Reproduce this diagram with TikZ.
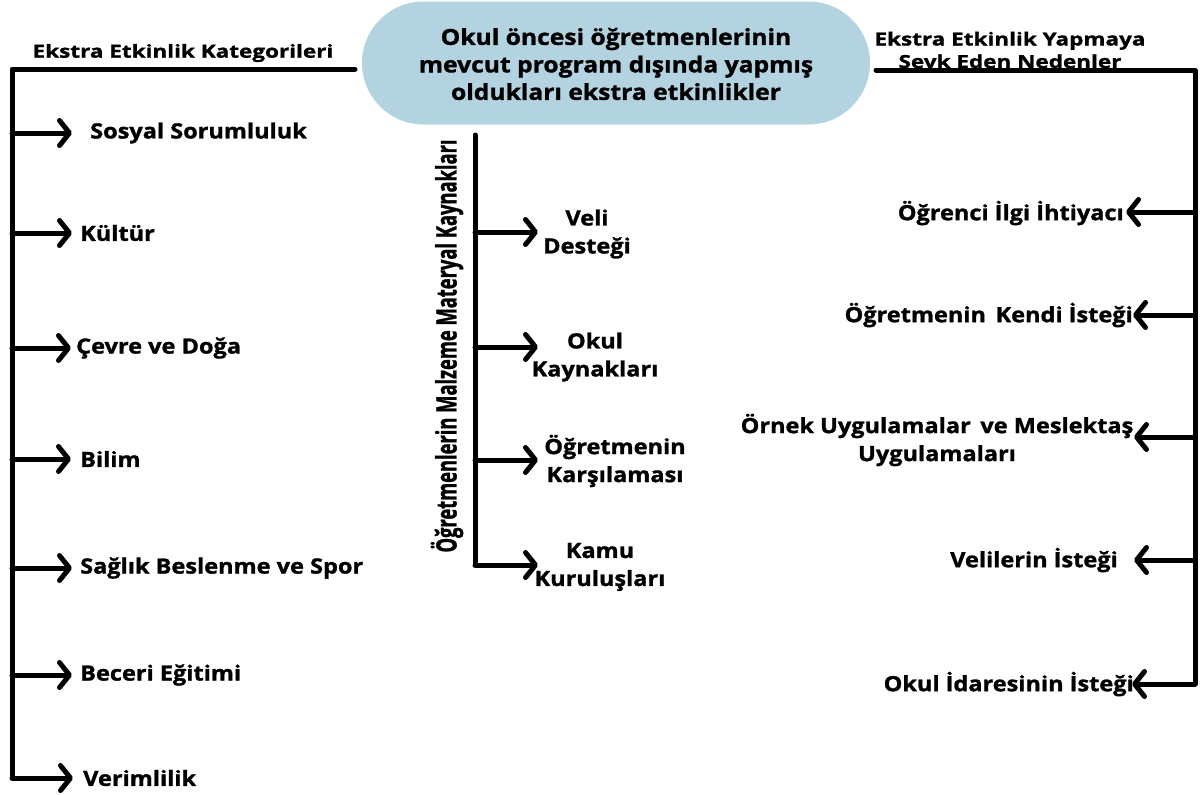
\documentclass[tikz,border=0pt]{standalone}
\usepackage{fontspec}
\setmainfont{Open Sans}
\newfontfamily\heavy{Open Sans}[FakeStretch=1.12,BoldFeatures={FakeBold=1.3}]
\newfontfamily\heavyw{Open Sans}[FakeStretch=1.25,BoldFeatures={FakeBold=1.3}]
\newfontfamily\heavyc{Open Sans}[BoldFeatures={FakeBold=1.6}]
\usetikzlibrary{arrows.meta,shapes.misc}
\definecolor{bubble}{RGB}{180,211,224}
\tikzset{
  spine/.style={line width=5pt,line cap=round,line join=round},
  arr/.style={line width=5pt,line cap=round,-{Straight Barb[length=10pt,width=25pt,round]}},
  item/.style={font=\heavy\bfseries\fontsize{21}{28}\selectfont,inner sep=0pt,align=center},
  head/.style={font=\heavyw\bfseries\fontsize{18}{22.5}\selectfont,inner sep=0pt,align=center},
  title/.style={font=\heavy\bfseries\fontsize{22}{27.5}\selectfont,align=center,inner sep=0pt}
}
\begin{document}
\begin{tikzpicture}[x=1pt,y=-1pt]
\useasboundingbox (0,0) rectangle (1202,795);
% central bubble
\node[draw=none,fill=bubble,rounded rectangle,minimum width=508pt,minimum height=123pt,inner sep=0pt] (bub) at (616,63) {};
\node[title] (btxt) at (616,64) {Okul öncesi öğretmenlerinin\\mevcut program dışında yapmış\\oldukları ekstra etkinlikler};

% left branch
\node[head] (lhead) at (183,53) {Ekstra Etkinlik Kategorileri};
\coordinate (lend) at (355,69);
\coordinate (lcorner) at (12,69);
\coordinate (lbot) at (12,778);
\draw[spine] (lend) -- (lcorner) -- (lbot);
\node[item,anchor=west] (l1) at (90,133) {Sosyal Sorumluluk};
\node[item,anchor=west] (l2) at (80,233) {Kültür};
\node[item,anchor=west] (l3) at (76,348) {Çevre ve Doğa};
\node[item,anchor=west] (l4) at (80,459) {Bilim};
\node[item,anchor=west] (l5) at (80,568) {Sağlık Beslenme ve Spor};
\node[item,anchor=west] (l6) at (80,675) {Beceri Eğitimi};
\node[item,anchor=west] (l7) at (83,778) {Verimlilik};
\foreach \n/\y/\g in {l1/133/18,l2/233/8,l3/348/5,l4/459/9,l5/568/8,l6/675/8,l7/778/10}{
  \coordinate (s\n) at (12,\y);
  \draw[arr,shorten >=\g pt] (s\n) -- (\n.west);
}

% middle branch
\node[rotate=90,inner sep=0pt] (mlab) at (447,346) {\resizebox{413pt}{\height}{\heavyc\bfseries\fontsize{28}{28}\selectfont Öğretmenlerin Malzeme Materyal Kaynakları}};
\coordinate (mtop) at (475,135);
\coordinate (mbot) at (475,565);
\draw[spine] (mtop) -- (mbot);
\node[item] (m1) at (587,234) {Veli\\Desteği};
\node[item] (m2) at (595,357) {Okul\\Kaynakları};
\node[item] (m3) at (615,461) {Öğretmenin\\Karşılaması};
\node[item] (m4) at (600,567) {Kamu\\Kuruluşları};
\foreach \n/\y in {m1/232,m2/347,m3/460,m4/565}{
  \coordinate (s\n) at (475,\y);
  \coordinate (t\n) at (538,\y);
  \draw[arr] (s\n) -- (t\n);
}

% right branch
\node[head] (rhead) at (1010,50) {Ekstra Etkinlik Yapmaya\\Sevk Eden Nedenler};
\coordinate (rstart) at (876,70);
\coordinate (rcorner) at (1195,70);
\coordinate (rbot) at (1195,684);
\draw[spine] (rstart) -- (rcorner) -- (rbot);
\node[item,anchor=east] (r1) at (1124,213) {Öğrenci İlgi İhtiyacı};
\node[item,anchor=east] (r2) at (1133,315) {Öğretmenin\, Kendi İsteği};
\node[item] (r3) at (937,440) {Örnek Uygulamalar\, ve Meslektaş\\Uygulamaları};
\node[item,anchor=east] (r4) at (1118,560) {Velilerin İsteği};
\node[item,anchor=east] (r5) at (1134,684) {Okul İdaresinin İsteği};
\foreach \n/\y/\x in {r1/212/1126,r2/315/1133,r3/437/1134,r4/560/1134,r5/684/1132}{
  \coordinate (s\n) at (1195,\y);
  \coordinate (t\n) at (\x,\y);
  \draw[arr] (s\n) -- (t\n);
}
\end{tikzpicture}
\end{document}
